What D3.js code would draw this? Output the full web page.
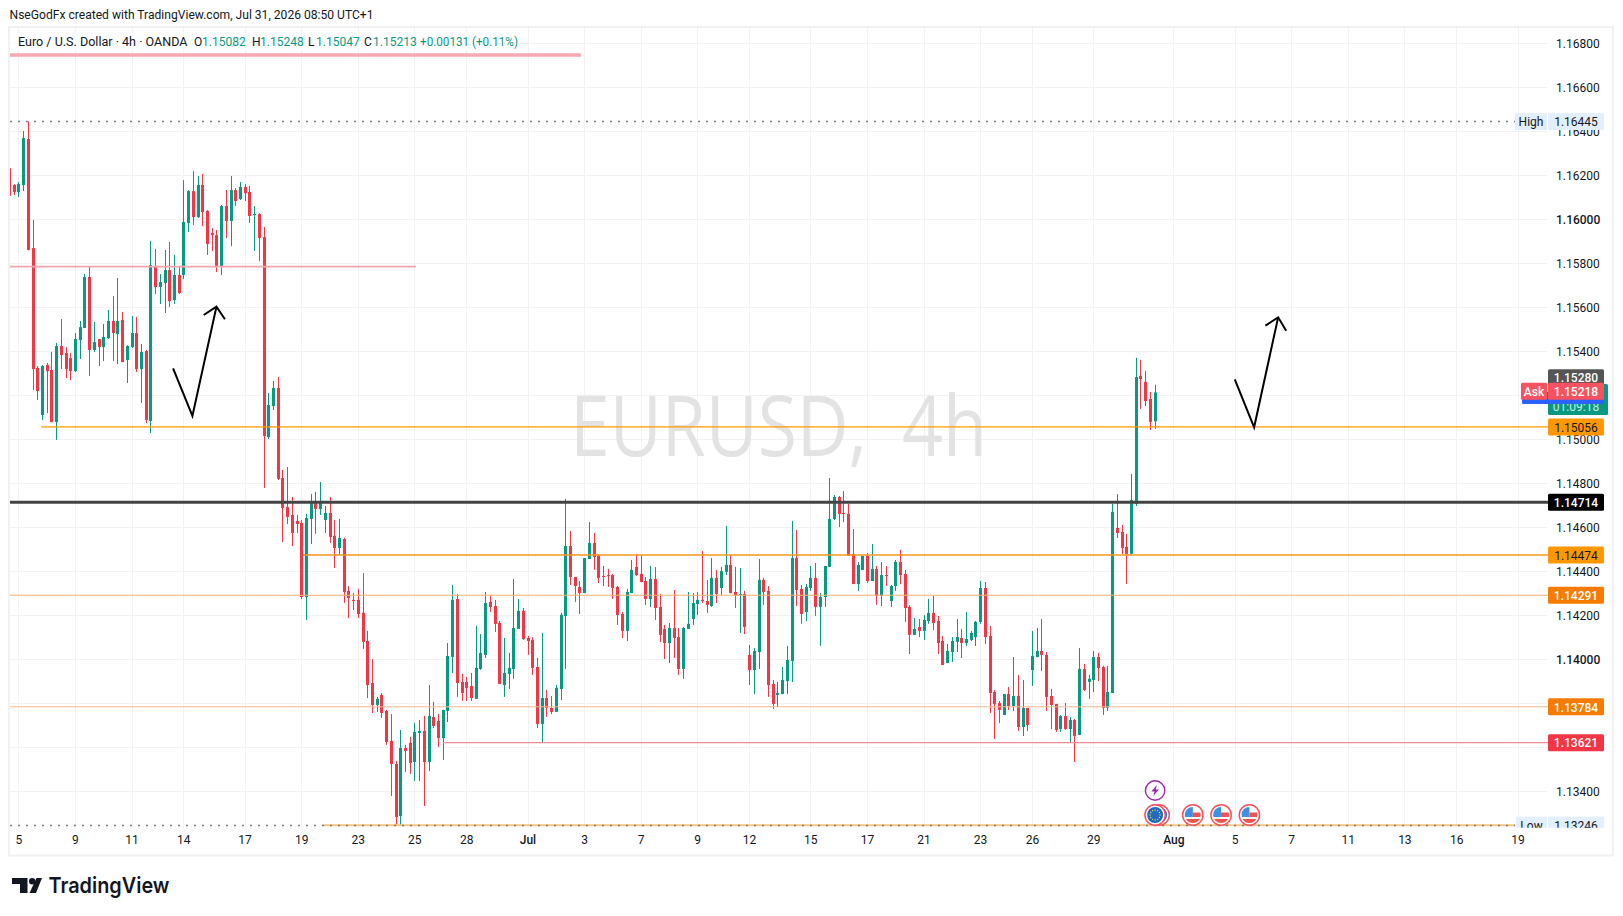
<!DOCTYPE html>
<html>
<head>
<meta charset="utf-8">
<title>EURUSD 4h</title>
<script src="https://cdn.jsdelivr.net/npm/d3@7/dist/d3.min.js"></script>
<style>
    html, body { margin: 0; padding: 0; background: #fff; overflow: hidden; }
    svg { display: block; }
    text { font-family: Roboto, sans-serif; }
</style>
</head>
<body>
<div id="chart"></div>
<script>
// Candle prices in 1/100000 of a dollar, oldest first (the first one is cut off by the pane edge)
const opens = [116232,116156,116124,116156,116365,115869,115324,115110,115338,115315,115078,115424,115392,115369,115310,115451,115506,115738,115406,115456,115419,115460,115538,115478,115542,115360,115419,115483,115319,115401,115083,115788,115692,115710,115769,115633,115747,115747,115983,116128,116010,116156,116038,115938,115928,115788,116060,115992,116133,116092,116147,116124,116019,116024,115919,115010,115151,115233,114824,114692,114656,114629,114620,114283,114638,114711,114683,114633,114665,114561,114506,114547,114311,114270,114270,114211,114083,113892,113792,113838,113765,113629,113524,113288,113597,113620,113533,113665,113674,113533,113738,113720,113642,113765,114011,114274,113897,113897,113879,113820,113956,114020,114261,114242,114165,113883,113933,113956,114138,114220,114097,114088,113965,113706,113824,113779,113761,113865,114197,114515,114374,114329,114301,114456,114529,114470,114379,114383,114383,114329,114206,114129,114301,114420,114388,114356,114274,114365,114238,114138,114074,114142,114101,113956,114138,114183,114251,114270,114265,114242,114370,114324,114397,114429,114306,114292,114297,114020,113951,114033,114361,114311,113888,113838,113842,113901,113992,114460,114320,114215,114324,114370,114238,114283,114420,114638,114738,114665,114661,114479,114342,114406,114470,114356,114411,114288,114383,114265,114333,114442,114388,114238,114111,114147,114129,114174,114211,114174,114083,113983,114033,114079,114097,114074,114088,114101,114170,114324,114106,113851,113801,113747,113842,113788,113833,113692,113779,113951,114010,114038,114020,113833,113797,113683,113742,113683,113724,113656,113956,113897,113906,114010,113965,113779,113847,114597,114579,114511,114479,114706,115288,115261,115183,115082];
const highs = [116232,116160,116169,116401,116445,115997,115333,115338,115347,115397,115438,115547,115419,115392,115483,115538,115751,115783,115533,115456,115524,115588,115651,115733,115578,115428,115560,115556,115433,115406,115901,115865,115751,115860,115897,115838,115788,116178,116133,116219,116197,116206,116042,115960,115951,116065,116133,116197,116142,116169,116160,116151,116060,116028,115965,115210,115265,115283,114861,114874,114738,114656,114633,114661,114752,114761,114806,114697,114738,114633,114638,114552,114333,114302,114320,114392,114129,114001,113829,113847,113770,113751,113538,113679,113611,113647,113711,113724,113743,113883,113806,113751,113770,114074,114338,114297,113933,113920,113938,114152,114115,114306,114292,114270,114174,114097,114029,114365,114274,114233,114106,114101,114006,114120,113861,113833,113883,114211,114729,114583,114374,114356,114460,114624,114574,114479,114424,114411,114388,114333,114215,114320,114451,114479,114474,114374,114424,114420,114297,114156,114165,114315,114142,114147,114306,114301,114306,114492,114361,114460,114406,114420,114606,114474,114420,114415,114311,114065,114051,114456,114370,114333,113906,113897,113965,114061,114629,114588,114338,114342,114424,114438,114301,114424,114824,114747,114742,114765,114706,114592,114442,114470,114483,114524,114424,114442,114424,114338,114451,114497,114406,114247,114188,114183,114201,114274,114288,114197,114106,114070,114101,114183,114138,114215,114129,114174,114356,114351,114151,113860,113810,113842,113874,114010,113929,113906,113779,114129,114142,114183,114033,113865,113797,113747,113801,113738,113729,114051,113979,113929,114038,114029,113970,113970,114706,114751,114611,114570,114842,115370,115361,115311,115215,115248];
const lows = [116106,116110,116101,116128,115860,115224,115178,115088,115119,115078,114997,115319,115278,115269,115306,115365,115506,115288,115397,115333,115356,115456,115356,115342,115351,115256,115415,115306,115165,115074,115028,115660,115615,115574,115601,115615,115660,115728,115942,115974,116006,115969,115838,115856,115760,115747,115915,115878,116060,116088,116083,115983,115856,115810,114779,115001,115133,114815,114533,114615,114515,114574,114274,114179,114524,114570,114656,114574,114529,114415,114474,114256,114188,114224,114188,114047,113824,113756,113761,113733,113611,113379,113246,113247,113488,113479,113447,113447,113333,113492,113688,113601,113542,113715,113938,113829,113811,113811,113811,113820,113952,114006,114215,114124,113888,113829,113865,113911,114138,114088,114020,113929,113688,113620,113738,113751,113761,113815,113956,114338,114261,114206,114301,114456,114406,114347,114333,114329,114274,114156,114097,114083,114301,114379,114351,114247,114238,114179,114079,114001,113983,114006,113929,113911,114138,114156,114201,114256,114211,114238,114256,114292,114383,114301,114233,114120,114115,113883,113842,113956,114247,113829,113774,113783,113842,113842,113897,114242,114161,114174,114311,114197,114061,114238,114420,114633,114601,114624,114470,114342,114311,114406,114347,114356,114247,114242,114333,114238,114311,114342,114170,114024,114111,114101,114088,114161,114133,114024,113974,113983,113988,114033,114006,114061,114083,114061,114161,114070,113756,113638,113710,113747,113770,113765,113674,113651,113674,113879,114010,113947,113765,113683,113670,113670,113679,113620,113533,113656,113856,113820,113851,113901,113747,113765,113847,114551,114479,114342,114479,114697,115138,115151,115042,115047];
const closes = [116106,116124,116160,116369,115860,115319,115219,115333,115310,115078,115424,115383,115319,115310,115456,115510,115738,115406,115442,115419,115465,115538,115483,115538,115351,115424,115483,115319,115397,115088,115792,115692,115715,115769,115628,115747,115665,115988,116128,116010,116156,116033,115888,115928,115788,116060,115992,116133,116083,116147,116119,116015,116024,115915,115015,115156,115233,114820,114688,114647,114574,114615,114283,114642,114711,114683,114720,114665,114556,114506,114552,114306,114279,114265,114206,114079,113883,113792,113820,113756,113624,113524,113283,113597,113583,113529,113670,113674,113533,113743,113697,113642,113770,114015,114270,113892,113847,113870,113824,113961,114029,114256,114238,114161,113888,113938,113961,114142,114220,114092,114083,113961,113706,113824,113779,113761,113870,114202,114515,114374,114333,114301,114460,114529,114465,114370,114374,114379,114324,114201,114129,114306,114406,114383,114351,114274,114365,114233,114111,114074,114142,114097,113956,114142,114161,114256,114270,114265,114247,114370,114297,114401,114429,114301,114288,114297,114147,113951,114038,114361,114306,113883,113797,113847,113906,113997,114460,114315,114206,114329,114370,114238,114283,114424,114638,114738,114661,114661,114470,114342,114429,114470,114356,114411,114288,114383,114379,114333,114442,114383,114233,114111,114138,114129,114179,114211,114165,114074,113974,114038,114083,114101,114074,114092,114120,114170,114324,114101,113847,113797,113770,113842,113788,113833,113692,113779,113701,114015,114038,114020,113829,113792,113679,113742,113683,113724,113651,113956,113860,113911,114010,113961,113779,113851,114670,114574,114506,114479,114724,115283,115274,115174,115079,115213];

// Time axis: candle slot of each labelled day (slots run on past the last candle)
const dateSlots = [1,13,25,36,49,61,73,85,96,109,121,133,145,156,169,181,193,205,216,229,246,259,271,283,295,306,319];
const dateLabels = ['5','9','11','14','17','19','23','25','28','Jul','3','7','9','12','15','17','21','23','26','29','Aug','5','7','11','13','16','19'];
const monthLabels = ['Jul', 'Aug'];

const priceTicks = [1.134,1.136,1.138,1.14,1.142,1.144,1.146,1.148,1.15,1.152,1.154,1.156,1.158,1.16,1.162,1.164,1.166,1.168];
// These labels give way to a price tag, their grid lines stay
const hiddenPriceLabels = [1.136, 1.138, 1.152];
const boldPrices = [1.14, 1.16];

// Horizontal drawings on the chart
const levelPrices = [1.15056, 1.14714, 1.14474, 1.14291, 1.13784, 1.13621, 1.15785, 1.16747];
const levelStarts = [5.73, null, 61.2, null, null, 90.9, null, null];
const levelEnds = [null, null, null, null, null, null, 85.2, 120.2];
const levelColors = ['#ff9800', '#434343', '#f7971c', '#f4b171', '#f4b88a', '#f08a95', '#f5a3ac', '#f7a9b1'];
const levelWidths = [1.3, 3, 1.3, 1, 1, 1.2, 1.8, 3.5];

// Price tags on the right axis
const tagPrices = [1.15056, 1.14714, 1.14474, 1.14291, 1.13784, 1.13621];
const tagFills = ['#ff9800', '#000000', '#ff9800', '#f57c00', '#f57c00', '#f23645'];
const tagInks = ['#131722', '#ffffff', '#131722', '#ffffff', '#ffffff', '#ffffff'];

const sessionHigh = 1.16445;
const sessionLow = 1.13246;
const lastLabel = 1.1528;
const askPrice = 1.15218;

// Hand drawn arrows, [slot, price]
const arrowA = [[33.7,1.153227],[37.8,1.151059],[42.9,1.156027]];
const arrowAHead = [[40.2,1.15565],[42.9,1.156027],[44.7,1.155455]];
const arrowB = [[258.9,1.152727],[263,1.150545],[268.1,1.155545]];
const arrowBHead = [[265.4,1.155164],[268.1,1.155545],[269.8,1.154936]];

const usEventSlots = [250, 256, 262];

const upColor = '#089981';
const downColor = '#f23645';

const width = 1623, height = 916;
const paneLeft = 10, paneRight = 1547, paneTop = 28, paneBottom = 827.8;

const svg = d3.select('#chart').append('svg')
    .attr('width', width)
    .attr('height', height);

const defs = svg.append('defs');
defs.append('clipPath').attr('id', 'pane')
    .append('rect').attr('x', paneLeft).attr('y', paneTop)
    .attr('width', paneRight - paneLeft).attr('height', paneBottom - paneTop);
defs.append('clipPath').attr('id', 'all-above-bottom')
    .append('rect').attr('x', 0).attr('y', 0).attr('width', width).attr('height', paneBottom);

// slot -1 is the cut off candle at the left edge
const x = d3.scaleLinear().domain([0, 1]).range([14.2, 18.9145]);
const y = d3.scaleLinear().domain([1.13234, 1.168695]).range([paneBottom, paneTop]);
const crisp = v => Math.floor(v) + 0.5;
const fmt = d3.format('.5f');

// Frame
svg.append('rect')
    .attr('x', 9).attr('y', 27).attr('width', 1604).attr('height', 828.5)
    .attr('fill', 'none').attr('stroke', '#f0f1f3').attr('stroke-width', 2);

// Header
svg.append('text').attr('x', 9.5).attr('y', 19)
    .attr('font-size', 12).attr('fill', '#131722').attr('textLength', 364)
    .attr('lengthAdjust', 'spacingAndGlyphs')
    .text('NseGodFx created with TradingView.com, Jul 31, 2026 08:50 UTC+1');

// Grid
const grid = svg.append('g').attr('stroke', '#f2f2f3').attr('stroke-width', 1);
grid.selectAll('.gh').data(priceTicks).join('line')
    .attr('x1', paneLeft).attr('x2', paneRight)
    .attr('y1', d => crisp(y(d))).attr('y2', d => crisp(y(d)));
grid.selectAll('.gv').data(dateSlots).join('line')
    .attr('x1', d => crisp(x(d))).attr('x2', d => crisp(x(d)))
    .attr('y1', paneTop).attr('y2', paneBottom);

// Watermark
const watermark = svg.append('g')
    .attr('font-size', 84).attr('fill', '#e3e3e4')
    .style('font-family', '"Open Sans", sans-serif');
watermark.append('text').attr('x', 570).attr('y', 456)
    .style('font-family', '"Open Sans", sans-serif')
    .attr('textLength', 297).attr('lengthAdjust', 'spacingAndGlyphs')
    .text('EURUSD,');
watermark.append('text').attr('x', 902).attr('y', 456)
    .style('font-family', '"Open Sans", sans-serif')
    .attr('textLength', 85).attr('lengthAdjust', 'spacingAndGlyphs')
    .text('4h');

// Candles
const pane = svg.append('g').attr('clip-path', 'url(#pane)');
const candles = pane.append('g').selectAll('g').data(opens).join('g')
    .attr('fill', (d, i) => closes[i] >= d ? upColor : downColor);
candles.append('rect')
    .attr('x', (d, i) => crisp(x(i - 1)) - 0.5)
    .attr('width', 1)
    .attr('y', (d, i) => y(highs[i] / 1e5))
    .attr('height', (d, i) => y(lows[i] / 1e5) - y(highs[i] / 1e5));
candles.append('rect')
    .attr('x', (d, i) => crisp(x(i - 1)) - 1.5)
    .attr('width', 3)
    .attr('y', (d, i) => y(Math.max(d, closes[i]) / 1e5))
    .attr('height', (d, i) => Math.max(1, Math.abs(y(d / 1e5) - y(closes[i] / 1e5))));

// High / Low dotted lines, with the orange band under the low one
pane.append('line')
    .attr('x1', x(65.5)).attr('x2', 1515)
    .attr('y1', y(sessionLow)).attr('y2', y(sessionLow))
    .attr('stroke', '#fbc57c').attr('stroke-width', 2);
pane.selectAll('.extreme').data([sessionHigh, sessionLow]).join('line')
    .attr('x1', paneLeft).attr('x2', 1515)
    .attr('y1', d => crisp(y(d))).attr('y2', d => crisp(y(d)))
    .attr('stroke', '#787b86').attr('stroke-width', 1.5).attr('stroke-dasharray', '2 6');

// Horizontal levels
svg.append('g').selectAll('line').data(levelPrices).join('line')
    .attr('x1', (d, i) => levelStarts[i] === null ? paneLeft : x(levelStarts[i]))
    .attr('x2', (d, i) => levelEnds[i] === null ? paneRight + 1 : x(levelEnds[i]))
    .attr('y1', d => y(d)).attr('y2', d => y(d))
    .attr('stroke', (d, i) => levelColors[i])
    .attr('stroke-width', (d, i) => levelWidths[i]);

// Arrows
const arrowLine = d3.line().x(d => x(d[0])).y(d => y(d[1]));
svg.append('g').selectAll('path').data([arrowA, arrowAHead, arrowB, arrowBHead]).join('path')
    .attr('d', arrowLine)
    .attr('fill', 'none').attr('stroke', '#000').attr('stroke-width', 2)
    .attr('stroke-linejoin', 'miter');

// Axes
const yAxis = svg.append('g')
    .attr('transform', `translate(${paneRight + 9},0)`)
    .call(d3.axisRight(y)
        .tickValues(priceTicks.filter(d => !hiddenPriceLabels.includes(d)))
        .tickSize(0).tickPadding(0).tickFormat(fmt));
yAxis.select('.domain').remove();
yAxis.selectAll('text')
    .style('font-family', 'Roboto, sans-serif').attr('font-size', 12).attr('fill', '#131722')
    .attr('font-weight', d => boldPrices.includes(d) ? 500 : 400);

const xAxis = svg.append('g')
    .attr('transform', `translate(-0.6,${paneBottom})`)
    .call(d3.axisBottom(x).tickValues(dateSlots).tickSize(0).tickPadding(8)
        .tickFormat((d, i) => dateLabels[i]));
xAxis.select('.domain').remove();
xAxis.selectAll('text')
    .style('font-family', 'Roboto, sans-serif').attr('font-size', 12).attr('fill', '#131722')
    .attr('font-weight', (d, i) => monthLabels.includes(dateLabels[i]) ? 500 : 400);

// Tag helper for the right side of the pane
const tags = svg.append('g');
function tag(px, py, w, h, fill, ink, label, weight) {
    tags.append('rect').attr('x', px).attr('y', py - h / 2)
        .attr('width', w).attr('height', h).attr('rx', 1.5).attr('fill', fill);
    if (label) {
        tags.append('text').attr('x', px + w / 2).attr('y', py + 4.8)
            .attr('text-anchor', 'middle').attr('font-size', 12)
            .attr('font-weight', weight || 400).attr('fill', ink).text(label);
    }
}

// High and Low tags; the low one runs off the pane bottom
tag(1515, y(sessionHigh), 32, 17, '#e3effd', '#131722', 'High');
tag(1548, y(sessionHigh), 56, 17, '#e3effd', '#131722', fmt(sessionHigh));
const lowGroup = tags.append('g').attr('clip-path', 'url(#all-above-bottom)');
[[1516, 31, 'Low'], [1548, 56, fmt(sessionLow)]].forEach(t => {
    lowGroup.append('rect').attr('x', t[0]).attr('y', y(sessionLow) - 8.5)
        .attr('width', t[1]).attr('height', 17).attr('fill', '#e3effd');
    lowGroup.append('text').attr('x', t[0] + t[1] / 2).attr('y', y(sessionLow) + 4.8)
        .attr('text-anchor', 'middle').attr('font-size', 12).attr('fill', '#131722').text(t[2]);
});

// Last price stack: grey tag, green countdown box, then Ask on top
tag(1548, y(lastLabel), 56, 17, '#555555', '#ffffff', fmt(lastLabel), 500);
tags.append('rect').attr('x', 1548).attr('y', 384).attr('width', 60).attr('height', 31)
    .attr('rx', 1.5).attr('fill', upColor);
tags.append('text').attr('x', 1576).attr('y', 411)
    .attr('text-anchor', 'middle').attr('font-size', 12).attr('fill', '#c8ede4').text('01:09:18');
tags.append('rect').attr('x', 1522).attr('y', 392).attr('width', 82).attr('height', 12)
    .attr('rx', 1.5).attr('fill', '#2962ff');
tag(1521, y(askPrice), 26, 17, '#f7525f', '#ffffff', 'Ask', 500);
tag(1548, y(askPrice), 56, 17, '#f7525f', '#ffffff', fmt(askPrice), 500);

// Level tags
tagPrices.forEach((p, i) => {
    tag(1548, y(p), 56, 17, tagFills[i], tagInks[i], fmt(p), tagInks[i] === '#ffffff' ? 500 : 400);
});

// Legend
svg.append('rect').attr('x', 10).attr('y', 32).attr('width', 510).attr('height', 18)
    .attr('fill', '#fff').attr('opacity', 0.6);
const legendNames = ['O', 'H', 'L', 'C'];
const legendNameX = [194, 252, 308, 364];
const legendValues = ['1.15082', '1.15248', '1.15047', '1.15213'];
const legendValueX = [202, 260, 316, 373];
const legend = svg.append('g').attr('font-size', 12);
legend.append('text').attr('x', 18).attr('y', 46).attr('fill', '#131722')
    .attr('textLength', 169.5).attr('lengthAdjust', 'spacingAndGlyphs')
    .text('Euro / U.S. Dollar \u00b7 4h \u00b7 OANDA');
legend.selectAll('.n').data(legendNames).join('text')
    .attr('x', (d, i) => legendNameX[i]).attr('y', 46).attr('fill', '#131722').text(d => d);
legend.selectAll('.v').data(legendValues).join('text')
    .attr('x', (d, i) => legendValueX[i]).attr('y', 46).attr('fill', upColor).text(d => d);
legend.append('text').attr('x', 420).attr('y', 46).attr('fill', upColor)
    .attr('textLength', 98).attr('lengthAdjust', 'spacingAndGlyphs')
    .text('+0.00131 (+0.11%)');

// Event markers under the last candles
const events = svg.append('g').attr('clip-path', 'url(#all-above-bottom)');
const eventX = x(242);
const bolt = events.append('g').attr('transform', `translate(${eventX},790.5)`);
bolt.append('circle').attr('r', 9.7).attr('fill', '#fff').attr('stroke', '#9c27b0').attr('stroke-width', 1.4);
bolt.append('path').attr('d', 'M1.8,-5.5 L-3.8,1 L-0.6,1 L-1.8,5.5 L3.8,-1 L0.6,-1 Z').attr('fill', '#9c27b0');

function eventBadge(cx, kind, id) {
    const g = events.append('g').attr('transform', `translate(${cx},815)`);
    g.append('circle').attr('r', 10.2).attr('fill', '#fff').attr('stroke', '#f7525f').attr('stroke-width', 1.5);
    defs.append('clipPath').attr('id', id).append('circle').attr('r', 8);
    const flag = g.append('g').attr('clip-path', `url(#${id})`);
    if (kind === 'eu') {
        flag.append('rect').attr('x', -8).attr('y', -8).attr('width', 16).attr('height', 16).attr('fill', '#1e6bc0');
        d3.range(12).forEach(k => {
            const a = k * Math.PI / 6;
            flag.append('circle').attr('cx', 5 * Math.cos(a)).attr('cy', 5 * Math.sin(a))
                .attr('r', 0.7).attr('fill', '#f8d448');
        });
    } else {
        flag.append('rect').attr('x', -8).attr('y', -8).attr('width', 16).attr('height', 16).attr('fill', '#fff');
        flag.append('rect').attr('x', 0).attr('y', -2.5).attr('width', 8).attr('height', 4.5).attr('fill', '#ef5350');
        flag.append('rect').attr('x', -8).attr('y', 4).attr('width', 16).attr('height', 4).attr('fill', '#ef5350');
        flag.append('rect').attr('x', -8).attr('y', -8).attr('width', 8).attr('height', 10).attr('fill', '#3f8fe5');
    }
}
eventBadge(eventX + 4, 'eu', 'flag-eu-b');
eventBadge(eventX, 'eu', 'flag-eu-a');
usEventSlots.forEach((s, i) => eventBadge(x(s), 'us', 'flag-us-' + i));

// TradingView logo
const logo = svg.append('g').attr('fill', '#131722');
logo.append('path').attr('d', 'M12,878 H27.5 V893 H20 V884 H12 Z');
logo.append('circle').attr('cx', 32.2).attr('cy', 881.2).attr('r', 3.2);
logo.append('path').attr('d', 'M36.5,878 H42 L36,893 H29.5 Z');
logo.append('text').attr('x', 48.5).attr('y', 893)
    .attr('font-size', 22).attr('font-weight', 600)
    .style('font-family', 'Inter, sans-serif')
    .attr('textLength', 121).attr('lengthAdjust', 'spacingAndGlyphs')
    .text('TradingView');
</script>
</body>
</html>
